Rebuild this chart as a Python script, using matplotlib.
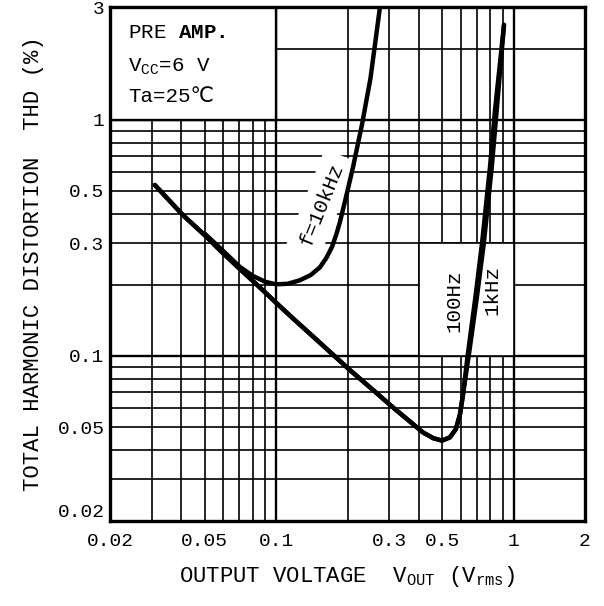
import numpy as np
import matplotlib
matplotlib.use("Agg")
import matplotlib.pyplot as plt
from matplotlib.patches import Rectangle

plt.rcParams['font.family'] = ['Liberation Mono', 'DejaVu Sans']
plt.rcParams['mathtext.fontset'] = 'custom'
plt.rcParams['mathtext.rm'] = 'Liberation Mono'
plt.rcParams['mathtext.it'] = 'Liberation Mono'
plt.rcParams['mathtext.bf'] = 'Liberation Mono:bold'

# --- data (Vout in Vrms, THD in %) ---
v_100hz = [0.0309, 0.0406, 0.05, 0.058, 0.0705, 0.085, 0.1, 0.118, 0.149, 0.205,
           0.26, 0.311, 0.37, 0.416, 0.46, 0.5, 0.54, 0.572, 0.595, 0.612,
           0.643, 0.69, 0.737, 0.796, 0.836, 0.912]
thd_100hz = [0.529, 0.394, 0.325, 0.2805, 0.233, 0.196, 0.168, 0.144, 0.1165, 0.087,
             0.0708, 0.0605, 0.0523, 0.0474, 0.0448, 0.0438, 0.0452, 0.049, 0.0565, 0.068,
             0.1026, 0.175, 0.3, 0.63, 1.1, 2.52]

v_1khz = [0.0309, 0.0406, 0.05, 0.058, 0.0705, 0.085, 0.1, 0.118, 0.149, 0.205,
          0.26, 0.311, 0.37, 0.416, 0.46, 0.5, 0.54, 0.572, 0.595, 0.612,
          0.65, 0.70, 0.75, 0.81, 0.85, 0.912]
thd_1khz = thd_100hz

v_10khz = [0.05, 0.058, 0.0705, 0.08, 0.09, 0.1, 0.112, 0.126, 0.14, 0.153,
           0.163, 0.172, 0.18, 0.186, 0.194, 0.2, 0.211, 0.23, 0.25, 0.274]
thd_10khz = [0.33, 0.287, 0.238, 0.218, 0.206, 0.201, 0.202, 0.209, 0.22, 0.237,
             0.26, 0.289, 0.33, 0.37, 0.44, 0.5, 0.63, 0.95, 1.5, 3.0]

x_ticks = [0.02, 0.05, 0.1, 0.3, 0.5, 1, 2]
x_ticklabels = ['0.02', '0.05', '0.1', '0.3', '0.5', '1', '2']
y_ticks = [0.02, 0.05, 0.1, 0.3, 0.5, 1, 3]
y_ticklabels = ['0.02', '0.05', '0.1', '0.3', '0.5', '1', '3']

x_grid = [0.03, 0.04, 0.05, 0.06, 0.07, 0.08, 0.09, 0.1,
          0.2, 0.3, 0.4, 0.5, 0.6, 0.7, 0.8, 0.9, 1]
y_grid = [0.03, 0.04, 0.05, 0.06, 0.07, 0.08, 0.09, 0.1,
          0.2, 0.3, 0.4, 0.5, 0.6, 0.7, 0.8, 0.9, 1, 2]

fig = plt.figure(figsize=(6.04, 6.06), dpi=100)
ax = fig.add_axes([110 / 604, 1 - 521 / 606, 475 / 604, 514 / 606])
ax.set_xscale('log')
ax.set_yscale('log')
ax.set_xlim(0.02, 2)
ax.set_ylim(0.02, 3)

# grid (decade lines a bit heavier)
for gx in x_grid:
    ax.axvline(gx, color='black', lw=1.7 if gx in (0.1, 1) else 1.2, zorder=0.5)
for gy in y_grid:
    ax.axhline(gy, color='black', lw=1.7 if gy in (0.1, 1) else 1.2, zorder=0.5)

# blank areas of the sheet (info box and label window)
ax.add_patch(Rectangle((0.02, 1), 0.08, 2, facecolor='white', edgecolor='black', lw=1.7, zorder=1))
ax.add_patch(Rectangle((0.4, 0.1), 0.6, 0.2, facecolor='white', edgecolor='black', lw=1.2, zorder=1))

# curves
ax.plot(v_100hz, thd_100hz, color='black', lw=3.2, solid_capstyle='round', zorder=3)
ax.plot(v_1khz, thd_1khz, color='black', lw=3.2, solid_capstyle='round', zorder=3)
ax.plot(v_10khz, thd_10khz, color='black', lw=3.2, solid_capstyle='round', zorder=3)

# curve labels
ax.text(0.156, 0.44, 'f=10kHz', rotation=68, ha='center', va='center', fontsize=15,
        bbox=dict(facecolor='white', edgecolor='none', pad=6), zorder=2)
ax.text(0.561, 0.172, '100Hz', rotation=90, ha='center', va='center', fontsize=15, zorder=2)
ax.text(0.811, 0.19, '1kHz', rotation=90, ha='center', va='center', fontsize=15, zorder=2)

# condition box
ax.text(0.038, 0.95, r'PRE $\mathbf{AMP.}$', transform=ax.transAxes, fontsize=15, va='center', zorder=2)
ax.text(0.038, 0.883, r'V$_{\mathrm{CC}}$=6 V', transform=ax.transAxes, fontsize=15, va='center', zorder=2)
ax.text(0.038, 0.825, 'Ta=25℃', transform=ax.transAxes, fontsize=15, va='center', zorder=2)

ax.set_xticks(x_ticks)
ax.set_xticklabels(x_ticklabels)
ax.set_yticks(y_ticks)
ax.set_yticklabels(y_ticklabels)
ax.xaxis.set_minor_locator(matplotlib.ticker.NullLocator())
ax.yaxis.set_minor_locator(matplotlib.ticker.NullLocator())
ax.tick_params(length=0, labelsize=14)
ax.tick_params(axis='x', pad=9)
ax.tick_params(axis='y', pad=4)
# lift the bottom y label clear of the x label
ax.yaxis.get_major_ticks()[0].label1.set_va('bottom')

for s in ax.spines.values():
    s.set_linewidth(2.4)

ax.set_xlabel(r'OUTPUT VOLTAGE  V$_{\mathrm{OUT}}$ (V$_{\mathrm{rms}}$)', fontsize=16, labelpad=10)
ax.set_ylabel('TOTAL HARMONIC DISTORTION  THD (%)', fontsize=16, labelpad=10)

fig.savefig('out.png', dpi=100)
